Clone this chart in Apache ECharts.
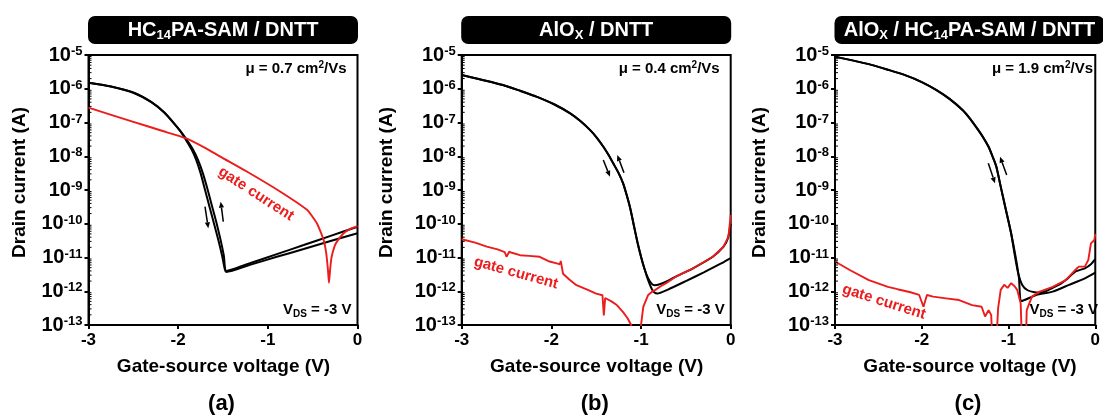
<!DOCTYPE html>
<html><head><meta charset="utf-8">
<script src="https://cdn.jsdelivr.net/npm/echarts@6/dist/echarts.min.js"></script>
<style>html,body{margin:0;padding:0;background:#fff}#c{width:1103px;height:418px}</style>
</head><body><div id="c"></div>
<script>
// ---------- DATA (gate-source voltage in V, current in A) ----------
const panelLetters = ['(a)', '(b)', '(c)'];
const mobility = ['0.7', '0.4', '1.9'];
const xTicks = [-3, -2, -1, 0];
const yMinExp = -13, yMaxExp = -5;
const minorMantissas = [2, 3, 4, 5, 6, 7, 8, 9];

// (a) HC14PA-SAM / DNTT
const aDrain1V = [-3, -2.75, -2.5, -2.3, -2.15, -2.05, -1.97, -1.91, -1.85, -1.8, -1.75, -1.7, -1.65, -1.6, -1.55, -1.51, -1.48, -1.465, -1.2, -0.9, -0.6, -0.3, 0];
const aDrain1I = [1.51e-6, 1.17e-6, 7.59e-7, 3.98e-7, 1.91e-7, 9.55e-8, 5.25e-8, 2.95e-8, 1.58e-8, 7.94e-9, 3.16e-9, 1e-9, 3.16e-10, 1e-10, 3.16e-11, 1.12e-11, 4.47e-12, 3.72e-12, 6.03e-12, 1.05e-11, 1.78e-11, 3.09e-11, 5.25e-11];
const aDrain2V = [-3, -2.75, -2.5, -2.3, -2.15, -2.05, -1.97, -1.9, -1.835, -1.78, -1.725, -1.67, -1.62, -1.57, -1.525, -1.49, -1.462, -1.2, -0.9, -0.6, -0.3, 0];
const aDrain2I = [1.51e-6, 1.17e-6, 7.76e-7, 4.07e-7, 1.95e-7, 9.77e-8, 5.37e-8, 2.95e-8, 1.58e-8, 7.94e-9, 3.16e-9, 1e-9, 3.16e-10, 1e-10, 3.16e-11, 1.12e-11, 3.98e-12, 6.76e-12, 1.26e-11, 2.34e-11, 4.37e-11, 8.13e-11];
const aGateV = [-3, -2.5, -2.2, -1.91, -1.7, -1.53, -1.23, -0.86, -0.56, -0.5, -0.45, -0.41, -0.375, -0.35, -0.33, -0.318, -0.305, -0.29, -0.26, -0.23, -0.155, -0.08, 0];
const aGateI = [2.75e-7, 1.05e-7, 5.89e-8, 3.39e-8, 1.78e-8, 9.77e-9, 3.47e-9, 8.91e-10, 2.57e-10, 1.58e-10, 1e-10, 5.62e-11, 3.16e-11, 1.41e-11, 4.47e-12, 1.78e-12, 4.47e-12, 1e-11, 2e-11, 2.95e-11, 5.25e-11, 7.08e-11, 8.51e-11];

// (b) AlOx / DNTT
const bDrain1V = [-3, -2.8, -2.54, -2.35, -2.16, -1.97, -1.79, -1.68, -1.57, -1.49, -1.42, -1.36, -1.31, -1.25, -1.2, -1.16, -1.12, -1.08, -1.04, -1.0, -0.96, -0.92, -0.88, -0.85, -0.8, -0.72, -0.6, -0.42, -0.2, -0.08, -0.03, 0];
const bDrain1I = [2.57e-6, 1.91e-6, 1.29e-6, 8.71e-7, 5.75e-7, 3.47e-7, 1.86e-7, 1.12e-7, 6.03e-8, 3.47e-8, 1.91e-8, 1.07e-8, 6.17e-9, 3.16e-9, 1.58e-9, 7.08e-10, 2.82e-10, 8.91e-11, 2.82e-11, 1.05e-11, 4.47e-12, 2.40e-12, 1.66e-12, 1.51e-12, 1.58e-12, 1.91e-12, 2.82e-12, 4.79e-12, 1.05e-11, 2.09e-11, 3.80e-11, 1e-10];
const bDrain2V = [-3, -2.8, -2.54, -2.35, -2.16, -1.97, -1.79, -1.68, -1.57, -1.49, -1.42, -1.36, -1.31, -1.25, -1.2, -1.16, -1.12, -1.08, -1.04, -1.0, -0.96, -0.92, -0.88, -0.85, -0.82, -0.7, -0.5, -0.3, -0.1, 0];
const bDrain2I = [2.57e-6, 1.91e-6, 1.29e-6, 8.71e-7, 5.75e-7, 3.47e-7, 1.86e-7, 1.12e-7, 6.03e-8, 3.47e-8, 1.91e-8, 1.07e-8, 6.17e-9, 3.16e-9, 1.58e-9, 7.08e-10, 2.82e-10, 8.91e-11, 2.82e-11, 1.05e-11, 4.47e-12, 2.09e-12, 1.17e-12, 9.12e-13, 8.51e-13, 1.12e-12, 2e-12, 3.63e-12, 6.76e-12, 9.55e-12];
const bGateV = [-3, -2.85, -2.72, -2.6, -2.52, -2.5, -2.47, -2.44, -2.35, -2.25, -2.13, -2.02, -1.93, -1.905, -1.895, -1.87, -1.8, -1.72, -1.6, -1.5, -1.43, -1.415, -1.4, -1.33, -1.27, -1.2, -1.15, -1.11, -1.08, -1.02, -1.0, -0.975, -0.95, -0.92, -0.88, -0.84, -0.78, -0.72, -0.6, -0.42, -0.2, -0.08, -0.025, 0];
const bGateI = [3.47e-11, 2.75e-11, 2.09e-11, 1.74e-11, 1.45e-11, 1.05e-11, 1.48e-11, 1.38e-11, 1.17e-11, 1.12e-11, 1.05e-11, 7.59e-12, 6.61e-12, 6.31e-12, 7.94e-12, 3.31e-12, 2.24e-12, 1.51e-12, 1.12e-12, 8.51e-13, 7.59e-13, 1.91e-13, 6.31e-13, 5.01e-13, 3.89e-13, 2.40e-13, 1.58e-13, 1e-13, 3.16e-14, 3.16e-14, 1e-13, 3.47e-13, 5.01e-13, 7.76e-13, 9.55e-13, 1.10e-12, 1.41e-12, 1.74e-12, 2.82e-12, 4.79e-12, 1.05e-11, 2.09e-11, 4.17e-11, 1.82e-10];

// (c) AlOx / HC14PA-SAM / DNTT
const cDrain1V = [-3, -2.8, -2.57, -2.4, -2.2, -2.0, -1.83, -1.68, -1.53, -1.44, -1.35, -1.29, -1.23, -1.185, -1.14, -1.09, -1.03, -0.97, -0.92, -0.88, -0.85, -0.68, -0.49, -0.3, -0.12, 0];
const cDrain1I = [8.91e-6, 6.92e-6, 5.01e-6, 3.72e-6, 2.57e-6, 1.58e-6, 9.12e-7, 5.01e-7, 2.34e-7, 1.26e-7, 6.03e-8, 3.55e-8, 1.91e-8, 1e-8, 4.90e-9, 1.26e-9, 2.57e-10, 5.25e-11, 1.12e-11, 2.51e-12, 5.13e-13, 7.76e-13, 9.77e-13, 1.55e-12, 2.40e-12, 3.55e-12];
const cDrain2V = [-3, -2.8, -2.57, -2.4, -2.2, -2.0, -1.83, -1.68, -1.53, -1.44, -1.35, -1.29, -1.23, -1.185, -1.14, -1.09, -1.03, -0.97, -0.93, -0.89, -0.84, -0.78, -0.7, -0.64, -0.57, -0.49, -0.4, -0.34, -0.23, -0.12, -0.05, 0];
const cDrain2I = [8.91e-6, 6.92e-6, 5.01e-6, 3.72e-6, 2.57e-6, 1.58e-6, 9.12e-7, 5.01e-7, 2.34e-7, 1.26e-7, 6.03e-8, 3.55e-8, 1.91e-8, 1e-8, 4.90e-9, 1.26e-9, 2.57e-10, 5.25e-11, 1.26e-11, 3.55e-12, 1.51e-12, 1.07e-12, 9.33e-13, 9.12e-13, 1e-12, 1.26e-12, 1.66e-12, 2.14e-12, 3.80e-12, 4.79e-12, 6.31e-12, 8.91e-12];
const cGateV = [-3, -2.83, -2.61, -2.39, -2.28, -2.13, -2.03, -1.98, -1.94, -1.87, -1.72, -1.57, -1.42, -1.31, -1.27, -1.23, -1.2, -1.185, -1.14, -1.12, -1.09, -1.05, -1.01, -0.97, -0.93, -0.9, -0.86, -0.845, -0.8, -0.79, -0.73, -0.64, -0.49, -0.34, -0.23, -0.19, -0.12, -0.08, -0.05, -0.01, 0];
const cGateI = [7.59e-12, 4.27e-12, 2.14e-12, 1.35e-12, 1.15e-12, 9.33e-13, 7.76e-13, 3.47e-13, 7.76e-13, 6.92e-13, 6.17e-13, 5.50e-13, 3.89e-13, 3.47e-13, 1.78e-13, 2.75e-13, 2.0e-13, 3.16e-14, 3.16e-14, 3.09e-13, 1.10e-12, 1.55e-12, 1.26e-12, 1.74e-12, 1.41e-12, 1.10e-12, 4.37e-13, 3.16e-14, 3.16e-14, 2.75e-13, 6.92e-13, 9.77e-13, 1.35e-12, 2.14e-12, 4.27e-12, 5.37e-12, 5.37e-12, 8.51e-12, 2.63e-11, 3.31e-11, 5.01e-11];

// ---------- LAYOUT ----------
const FONT = '"Liberation Sans", Arial, Helvetica, sans-serif';
const BLACK = '#000000', RED = '#ec1c1c';
const gridLeft = [88.5, 461.7, 835];
const gridTop = 55, gridW = 269, gridH = 270;

const zip = (xs, ys) => xs.map((x, i) => [x, ys[i]]);
const panels = [
  {d1: zip(aDrain1V, aDrain1I), d2: zip(aDrain2V, aDrain2I), g: zip(aGateV, aGateI), gSmooth: 0.2},
  {d1: zip(bDrain1V, bDrain1I), d2: zip(bDrain2V, bDrain2I), g: zip(bGateV, bGateI), gSmooth: false},
  {d1: zip(cDrain1V, cDrain1I), d2: zip(cDrain2V, cDrain2I), g: zip(cGateV, cGateI), gSmooth: false}
];
// minor (log-spaced) tick positions on the y axis
const minorTickData = [];
for (let e = yMinExp; e < yMaxExp; e++) minorMantissas.forEach(m => minorTickData.push([xTicks[0], m * Math.pow(10, e)]));

const grid = [], xAxis = [], yAxis = [], series = [];
panels.forEach((p, i) => {
  grid.push({left: gridLeft[i], top: gridTop, width: gridW, height: gridH, show: true,
    borderColor: BLACK, borderWidth: 2, backgroundColor: 'transparent'});
  xAxis.push({type: 'value', gridIndex: i, min: xTicks[0], max: xTicks[xTicks.length - 1], interval: 1,
    axisLine: {show: true, onZero: false, lineStyle: {color: BLACK, width: 2}},
    axisTick: {show: true, length: 4, lineStyle: {color: BLACK, width: 2}},
    axisLabel: {color: BLACK, fontFamily: FONT, fontWeight: 'bold', fontSize: 17, margin: 7},
    splitLine: {show: false}});
  yAxis.push({type: 'log', logBase: 10, gridIndex: i, min: Math.pow(10, yMinExp), max: Math.pow(10, yMaxExp), interval: 1,
    axisLine: {show: true, onZero: false, lineStyle: {color: BLACK, width: 2}},
    axisTick: {show: true, length: 4, lineStyle: {color: BLACK, width: 2}},
    minorTick: {show: false},
    axisLabel: {margin: 6, formatter: v => '{b|10}{s|' + Math.round(Math.log10(v)) + '}',
      rich: {b: {fontFamily: FONT, fontWeight: 'bold', fontSize: 20, color: BLACK, lineHeight: 20},
             s: {fontFamily: FONT, fontWeight: 'bold', fontSize: 13, color: BLACK, lineHeight: 12, verticalAlign: 'top'}}},
    splitLine: {show: false}, minorSplitLine: {show: false}});
  [p.d1, p.d2].forEach(d => series.push({type: 'line', xAxisIndex: i, yAxisIndex: i, data: d, symbol: 'none',
    smooth: 0.2, clip: true, lineStyle: {color: BLACK, width: 2}, z: 3}));
  series.push({type: 'line', xAxisIndex: i, yAxisIndex: i, data: p.g, symbol: 'none',
    smooth: p.gSmooth, clip: true, lineStyle: {color: RED, width: 1.9}, z: 4});
  series.push({type: 'custom', xAxisIndex: i, yAxisIndex: i, data: minorTickData, clip: false, silent: true, z: 5,
    renderItem: (params, api) => {
      const pt = api.coord([api.value(0), api.value(1)]);
      return {type: 'line', shape: {x1: pt[0], y1: pt[1], x2: pt[0] + 3, y2: pt[1]}, style: {stroke: BLACK, lineWidth: 1}};
    }});
});

// ---------- ANNOTATIONS ----------
const graphic = [];
const txt = (x, y, text, rich, opts) => ({type: 'text', x: x, y: y, z: 20,
  style: Object.assign({text: text, rich: rich, fill: BLACK, fontFamily: FONT, fontWeight: 'bold',
    align: 'center', verticalAlign: 'middle'}, opts || {})});
function arrow(x1, y1, x2, y2) {
  const dx = x2 - x1, dy = y2 - y1, len = Math.sqrt(dx * dx + dy * dy), ux = dx / len, uy = dy / len;
  const hl = 6, hw = 2.6, bx = x2 - ux * hl, by = y2 - uy * hl;
  graphic.push({type: 'line', z: 20, shape: {x1: x1, y1: y1, x2: bx, y2: by}, style: {stroke: BLACK, lineWidth: 1.5}});
  graphic.push({type: 'polygon', z: 20, shape: {points: [[x2, y2], [bx - uy * hw, by + ux * hw], [bx + uy * hw, by - ux * hw]]}, style: {fill: BLACK}});
}
const subRich = {t: {fontFamily: FONT, fontWeight: 'bold', fontSize: 20, fill: '#fff', lineHeight: 24, verticalAlign: 'middle'},
                 s: {fontFamily: FONT, fontWeight: 'bold', fontSize: 13, fill: '#fff', lineHeight: 12, verticalAlign: 'bottom'}};
const titleRich = [
  '{t|HC}{s|14}{t|PA-SAM / DNTT}',
  '{t|AlO}{s|X}{t| / DNTT}',
  '{t|AlO}{s|X}{t| / HC}{s|14}{t|PA-SAM / DNTT}'
];
const yTitleX = [20, 387, 759.5];
const gateLbl = [[167.5, 194, -33], [54.3, 273, -15.5], [49, 302, -17.7]];
const arrows = [
  [[205, 206.7, 208.3, 228.3], [223.3, 221.7, 220.7, 201.7]],
  [[603.3, 160, 610, 176.7], [624, 172.7, 617.3, 155]],
  [[988.3, 163.3, 995, 183.3], [1006.7, 175, 1000, 156.7]]
];
gridLeft.forEach((L, i) => {
  graphic.push({type: 'rect', z: 10, shape: {x: L - 0.5, y: 16, width: 270, height: 28, r: 7}, style: {fill: '#000'}});
  graphic.push(txt(L + 134.5, 30, titleRich[i], subRich, {fill: '#fff'}));
  graphic.push(txt(L + 258, 69, 'μ = ' + mobility[i] + ' cm{p|2}/Vs',
    {p: {fontFamily: FONT, fontWeight: 'bold', fontSize: 10, fill: BLACK, lineHeight: 10, verticalAlign: 'top'}},
    {align: 'right', fontSize: 15, lineHeight: 18}));
  graphic.push(txt(L + 263, 310, 'V{d|DS} = -3 V',
    {d: {fontFamily: FONT, fontWeight: 'bold', fontSize: 10, fill: BLACK, lineHeight: 10, verticalAlign: 'bottom'}},
    {align: 'right', fontSize: 15, lineHeight: 18}));
  graphic.push({type: 'text', x: L + gateLbl[i][0], y: gateLbl[i][1], rotation: gateLbl[i][2] * Math.PI / 180, z: 20,
    style: {text: 'gate current', fill: RED, fontFamily: FONT, fontWeight: 'bold', fontSize: 15, align: 'center', verticalAlign: 'middle'}});
  graphic.push({type: 'text', x: yTitleX[i], y: 182.5, rotation: Math.PI / 2, z: 20,
    style: {text: 'Drain current (A)', fill: BLACK, fontFamily: FONT, fontWeight: 'bold', fontSize: 19, align: 'center', verticalAlign: 'middle'}});
  graphic.push(txt(L + 135, 367, 'Gate-source voltage (V)', null, {fontSize: 19}));
  graphic.push(txt(L + 133, 404, panelLetters[i], null, {fontSize: 22}));
  arrows[i].forEach(a => arrow(a[0], a[1], a[2], a[3]));
});

const chart = echarts.init(document.getElementById('c'), null, {renderer: 'canvas'});
chart.setOption({animation: false, backgroundColor: '#fff', grid, xAxis, yAxis, series, graphic});
</script>
</body></html>
